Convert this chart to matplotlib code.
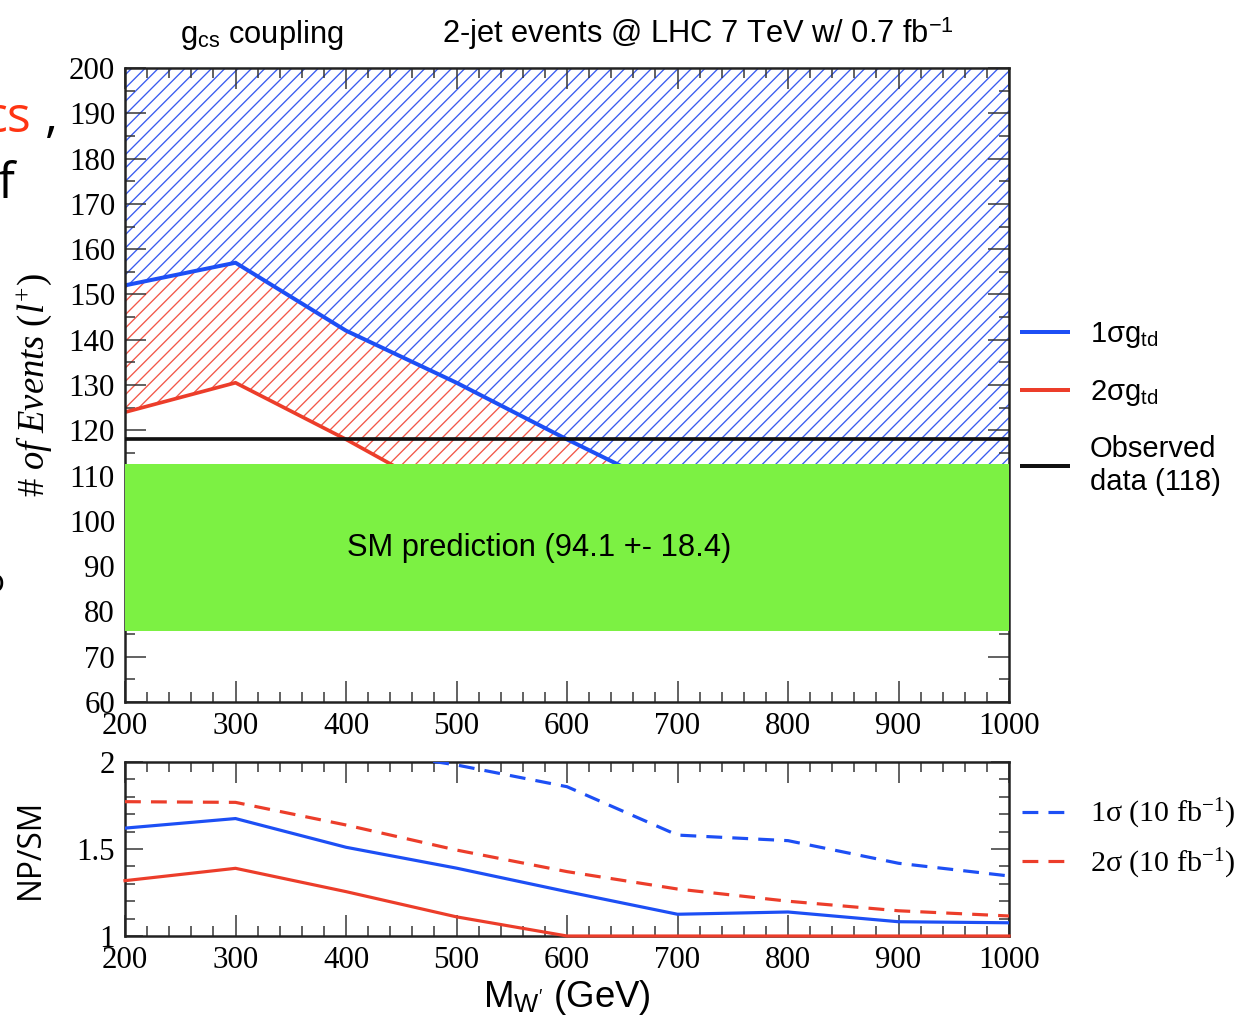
import matplotlib
matplotlib.use('Agg')
import matplotlib.pyplot as plt
from matplotlib.lines import Line2D
from matplotlib.ticker import MultipleLocator, FixedLocator, FormatStrFormatter

# ---------------- data ----------------
mass = [200, 300, 400, 500, 600, 700, 800, 900, 1000]
events_1sigma = [152, 157, 142, 130.5, 118, 106, 107, 102, 101]
events_2sigma = [124, 130.5, 118, 104.5, 94.5, 94, 94, 94, 94]
observed = 118
sm_central = 94.1
sm_error = 18.4
ratio_1sigma = [1.62, 1.675, 1.51, 1.39, 1.255, 1.125, 1.138, 1.082, 1.076]
ratio_2sigma = [1.318, 1.389, 1.255, 1.11, 1.0, 1.0, 1.0, 1.0, 1.0]
ratio_1sigma_10fb = [2.15, 2.2, 2.08, 1.983, 1.858, 1.58, 1.548, 1.418, 1.345]
ratio_2sigma_10fb = [1.772, 1.768, 1.638, 1.494, 1.37, 1.27, 1.20, 1.145, 1.115]
xticks = [200, 300, 400, 500, 600, 700, 800, 900, 1000]

# ---------------- style ----------------
W, H, DPI = 1251, 1026, 120
BLUE = '#1d4ff5'
RED = '#ec3d2a'
GREEN = '#7cf143'
BLUE_H = '#3a5cf0'
RED_H = '#f2584a'

plt.rcParams['font.family'] = 'Liberation Serif'
plt.rcParams['mathtext.fontset'] = 'custom'
plt.rcParams['mathtext.rm'] = 'Liberation Serif'
plt.rcParams['mathtext.it'] = 'Liberation Serif:italic'
plt.rcParams['hatch.linewidth'] = 0.8
SANS = 'Liberation Sans'

fig = plt.figure(figsize=(W / DPI, H / DPI), dpi=DPI)


def style_axes(ax):
    for s in ax.spines.values():
        s.set_linewidth(1.5)
        s.set_color('#222222')
    ax.tick_params(which='both', direction='in', top=True, right=True,
                   width=0.9, colors='#333333', labelcolor='black',
                   labelsize=18.5)
    ax.tick_params(which='major', length=12.5, pad=6)
    ax.tick_params(which='minor', length=6)


# ---------------- top panel ----------------
ax = fig.add_axes([125 / W, 1 - 702 / H, 884 / W, 634 / H])
ax.set_xlim(200, 1000)
ax.set_ylim(60, 200)
ax.fill_between(mass, events_1sigma, 200, facecolor='none', edgecolor=BLUE_H,
                hatch='///', linewidth=0, zorder=1)
ax.fill_between(mass, events_2sigma, events_1sigma, facecolor='none',
                edgecolor=RED_H, hatch='///', linewidth=0, zorder=1)
ax.plot(mass, events_1sigma, color=BLUE, lw=2.4, zorder=2)
ax.plot(mass, events_2sigma, color=RED, lw=2.2, zorder=2)
ax.axhspan(sm_central - sm_error, sm_central + sm_error, facecolor=GREEN,
           lw=0, zorder=3)
ax.axhline(observed, color='#111111', lw=2.2, zorder=4)
ax.text(575, sm_central, 'SM prediction (94.1 +- 18.4)', ha='center',
        va='center', fontsize=18.5, family=SANS, zorder=5)
ax.xaxis.set_major_locator(FixedLocator(xticks))
ax.xaxis.set_minor_locator(MultipleLocator(20))
ax.yaxis.set_major_locator(MultipleLocator(10))
ax.yaxis.set_minor_locator(MultipleLocator(5))
style_axes(ax)
ax.set_ylabel(r'$\#\ of\ Events\ (l^{+})$', fontsize=22, labelpad=9)

# ---------------- bottom panel ----------------
bx = fig.add_axes([125 / W, 1 - 936 / H, 884 / W, 174 / H])
bx.set_xlim(200, 1000)
bx.set_ylim(1, 2)
bx.plot(mass, ratio_1sigma, color=BLUE, lw=1.9, zorder=3)
bx.plot(mass, ratio_2sigma, color=RED, lw=1.9, zorder=3, clip_on=False)
bx.plot(mass, ratio_1sigma_10fb, color=BLUE, lw=1.9, ls=(0, (5, 3.2)), zorder=3)
bx.plot(mass, ratio_2sigma_10fb, color=RED, lw=1.9, ls=(0, (5, 3.2)), zorder=3)
bx.xaxis.set_major_locator(FixedLocator(xticks))
bx.xaxis.set_minor_locator(MultipleLocator(20))
bx.yaxis.set_major_locator(FixedLocator([1, 1.5, 2]))
bx.yaxis.set_minor_locator(MultipleLocator(0.1))
bx.yaxis.set_major_formatter(FormatStrFormatter('%g'))
style_axes(bx)
bx.tick_params(axis='y', which='major', length=11)
bx.set_ylabel('NP/SM', fontsize=19, family='Open Sans', labelpad=18)
bx.set_xlabel(r"M$_\mathregular{W'}$ (GeV)", fontsize=22, family=SANS,
              labelpad=2)

# ---------------- titles ----------------
fig.text(262 / W, 1 - 43 / H, r'g$_\mathregular{cs}$ coupling', ha='center',
         va='baseline', fontsize=18.5, family=SANS)
fig.text(698 / W, 1 - 43 / H,
         r'2-jet events @ LHC 7 TeV w/ 0.7 fb$^\mathregular{-1}$',
         ha='center', va='baseline', fontsize=18.5, family=SANS)

# ---------------- legends ----------------
h_top = [Line2D([], [], color=BLUE, lw=2.4),
         Line2D([], [], color=RED, lw=2.4),
         Line2D([], [], color='#111111', lw=2.4)]
l_top = [r'1σg$_\mathregular{td}$', r'2σg$_\mathregular{td}$',
         'Observed\ndata (118)']
fs = 17.5
em = fs * DPI / 72
fig.legend(h_top, l_top, loc='upper left',
           bbox_to_anchor=(1022 / W, 1 - 320 / H), frameon=False,
           borderpad=0, borderaxespad=0, handlelength=46 / em,
           handletextpad=22 / em, labelspacing=0.95,
           prop={'family': SANS, 'size': fs})

h_bot = [Line2D([], [], color=BLUE, lw=1.9, ls=(0, (5, 3.2))),
         Line2D([], [], color=RED, lw=1.9, ls=(0, (5, 3.2)))]
l_bot = [r'1σ (10 fb$^\mathregular{-1}$)', r'2σ (10 fb$^\mathregular{-1}$)']
fs2 = 18
em2 = fs2 * DPI / 72
fig.legend(h_bot, l_bot, loc='upper left',
           bbox_to_anchor=(1022 / W, 1 - 797 / H), frameon=False,
           borderpad=0, borderaxespad=0, handlelength=46 / em2,
           handletextpad=22 / em2, labelspacing=0.52,
           prop={'family': 'Liberation Serif', 'size': fs2})

# ---------------- cropped slide text at the left edge ----------------
fig.text(31 / W, 1 - 132 / H, 'cs', ha='right', va='baseline', fontsize=30,
         family='Open Sans', color='#ff3412')
fig.text(45 / W, 1 - 132 / H, ',', ha='left', va='baseline', fontsize=30,
         family='Open Sans', color='black')
fig.text(15 / W, 1 - 198 / H, 'of', ha='right', va='baseline', fontsize=30,
         family='Open Sans', color='black')
fig.text(4 / W, 1 - 592 / H, 'o', ha='right', va='baseline', fontsize=20,
         family='Open Sans', color='black')

fig.savefig('out.png', dpi=DPI)
